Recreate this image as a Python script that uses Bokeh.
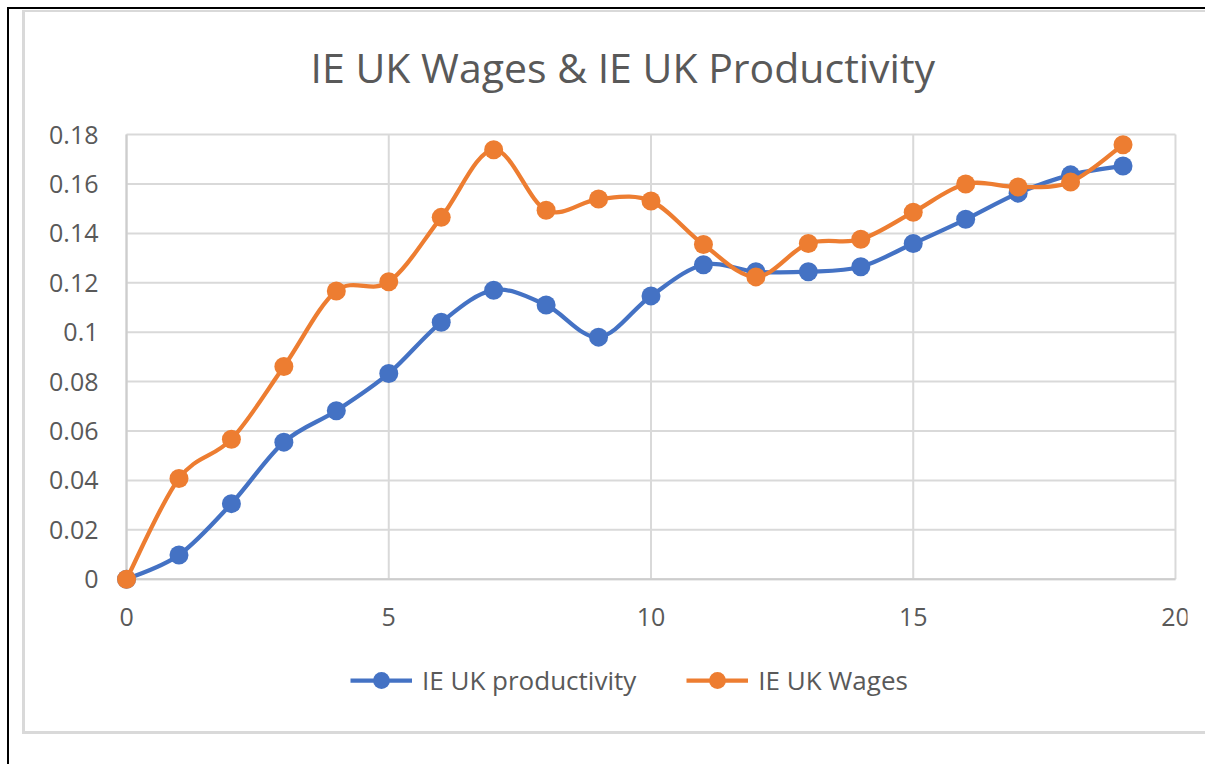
from bokeh.plotting import figure
from bokeh.layouts import column
from bokeh.models import (ColumnDataSource, FixedTicker, Legend, LegendItem,
                          Title, Range1d)
from bokeh.core.properties import value
from bokeh.embed import file_html
from bokeh.resources import INLINE

years = list(range(20))
productivity = [0.0, 0.0098, 0.0306, 0.0555, 0.0682, 0.0833, 0.104, 0.117, 0.111, 0.098,
                0.1147, 0.1273, 0.1245, 0.1245, 0.1265, 0.1359, 0.1457, 0.1563, 0.1637, 0.1673]
wages = [0.0, 0.0408, 0.0567, 0.0861, 0.1167, 0.1204, 0.1465, 0.1739, 0.1494, 0.1539,
         0.1531, 0.1355, 0.1224, 0.1359, 0.1376, 0.1486, 0.16, 0.1588, 0.1608, 0.1759]
series_names = ["IE UK productivity", "IE UK Wages"]
x_ticks = [0, 5, 10, 15, 20]
x_tick_labels = ["0", "5", "10", "15", "20"]
y_ticks = [0, 0.02, 0.04, 0.06, 0.08, 0.1, 0.12, 0.14, 0.16, 0.18]
y_tick_labels = ["0", "0.02", "0.04", "0.06", "0.08", "0.1", "0.12", "0.14", "0.16", "0.18"]

BLUE = "#4472C4"
ORANGE = "#ED7D31"
TEXT = "#595959"
GRID = "#D9D9D9"
AXIS = "#CDCDCD"
FONT = "Open Sans"

# pixel scale of the value area (1046 x 441 px)
KX = 20 / 1046
KY = 0.18 / 441
x_lo, x_hi = x_ticks[0], x_ticks[-1]
y_lo, y_hi = y_ticks[0], y_ticks[-1]

p = figure(frame_width=1070, frame_height=609, output_backend="svg", toolbar_location=None,
           x_range=Range1d(x_lo - 12 * KX, x_hi + 12 * KX),
           y_range=Range1d(y_lo - 156 * KY, y_hi + 12 * KY),
           x_axis_location=None,
           min_border_left=89, min_border_right=21, min_border_top=110,
           min_border_bottom=0)
p.background_fill_color = "white"
p.border_fill_color = "white"
p.outline_line_color = None
p.styles = {"border-left": "3px solid #D9D9D9", "border-top": "2px solid #D9D9D9",
            "border-bottom": "3px solid #D9D9D9"}

# grid lines limited to the value area
p.segment(x0=x_ticks, y0=[y_lo] * len(x_ticks), x1=x_ticks, y1=[y_hi] * len(x_ticks),
          line_color=GRID, line_width=2)
p.segment(x0=[x_lo] * len(y_ticks), y0=y_ticks, x1=[x_hi] * len(y_ticks), y1=y_ticks,
          line_color=GRID, line_width=2)
p.segment(x0=[x_lo], y0=[y_lo], x1=[x_hi], y1=[y_lo], line_color=AXIS, line_width=2)
p.segment(x0=[x_lo], y0=[y_lo], x1=[x_lo], y1=[y_hi], line_color=AXIS, line_width=2)

# x tick labels
p.text(x=x_ticks, y=[y_lo - 37 * KY] * len(x_ticks), text=x_tick_labels,
       text_font=value(FONT), text_font_size="25px", text_color=TEXT,
       text_align="center", text_baseline="middle")


def smooth(xs, ys):
    n = len(xs)
    pts = list(zip(xs, ys))
    x0, y0, x1, y1, cx0, cy0, cx1, cy1 = [], [], [], [], [], [], [], []
    for i in range(n - 1):
        pm = pts[i - 1] if i > 0 else pts[i]
        p0 = pts[i]
        p1 = pts[i + 1]
        p2 = pts[i + 2] if i + 2 < n else pts[i + 1]
        x0.append(p0[0]); y0.append(p0[1])
        x1.append(p1[0]); y1.append(p1[1])
        cx0.append(p0[0] + (p1[0] - pm[0]) / 6.0)
        cy0.append(p0[1] + (p1[1] - pm[1]) / 6.0)
        cx1.append(p1[0] - (p2[0] - p0[0]) / 6.0)
        cy1.append(p1[1] - (p2[1] - p0[1]) / 6.0)
    return dict(x0=x0, y0=y0, x1=x1, y1=y1, cx0=cx0, cy0=cy0, cx1=cx1, cy1=cy1)


items = []
for name, vals, col in [(series_names[0], productivity, BLUE), (series_names[1], wages, ORANGE)]:
    bsrc = ColumnDataSource(smooth(years, vals))
    bz = p.bezier(x0="x0", y0="y0", x1="x1", y1="y1", cx0="cx0", cy0="cy0", cx1="cx1", cy1="cy1",
                  source=bsrc, line_color=col, line_width=4.25)
    sc = p.scatter(x=years, y=vals, size=19, fill_color=col, line_color=col, line_width=0)
    items.append(LegendItem(label=name, renderers=[bz, sc]))

# y axis
p.yaxis.ticker = FixedTicker(ticks=y_ticks)
p.yaxis.major_label_overrides = {t: l for t, l in zip(y_ticks, y_tick_labels)}
p.yaxis.major_tick_line_color = None
p.yaxis.minor_tick_line_color = None
p.yaxis.major_label_text_font = FONT
p.yaxis.major_label_text_font_size = "25px"
p.yaxis.major_label_text_color = TEXT
p.yaxis.axis_line_color = None
p.yaxis.major_label_standoff = 10
p.xgrid.grid_line_color = None
p.ygrid.grid_line_color = None

# spacer (next to the plot area) and title above it
spacer = Title(text=" ", text_font=FONT, text_font_size="10px", standoff=12)
p.add_layout(spacer, "above")
t = Title(text="IE UK Wages & IE UK Productivity", align="left", offset=196,
          text_font=FONT, text_font_size="41px", text_font_style="normal",
          text_color=TEXT, standoff=0)
p.add_layout(t, "above")

legend = Legend(items=items, orientation="horizontal", location=(236, 35),
                label_text_font=FONT, label_text_font_size="26px", label_text_color=TEXT,
                glyph_width=62, glyph_height=42, label_height=42,
                label_standoff=10, spacing=50,
                border_line_color=None, background_fill_alpha=0, margin=0, padding=0)
p.add_layout(legend, "center")

layout = column(p, styles={"border-left": "2px solid #000000", "border-top": "2px solid #000000",
                           "margin-left": "7px", "margin-top": "7px",
                           "padding-left": "13px", "padding-top": "1px",
                           "padding-bottom": "30px"})

open("out.html", "w").write(file_html(layout, INLINE))
